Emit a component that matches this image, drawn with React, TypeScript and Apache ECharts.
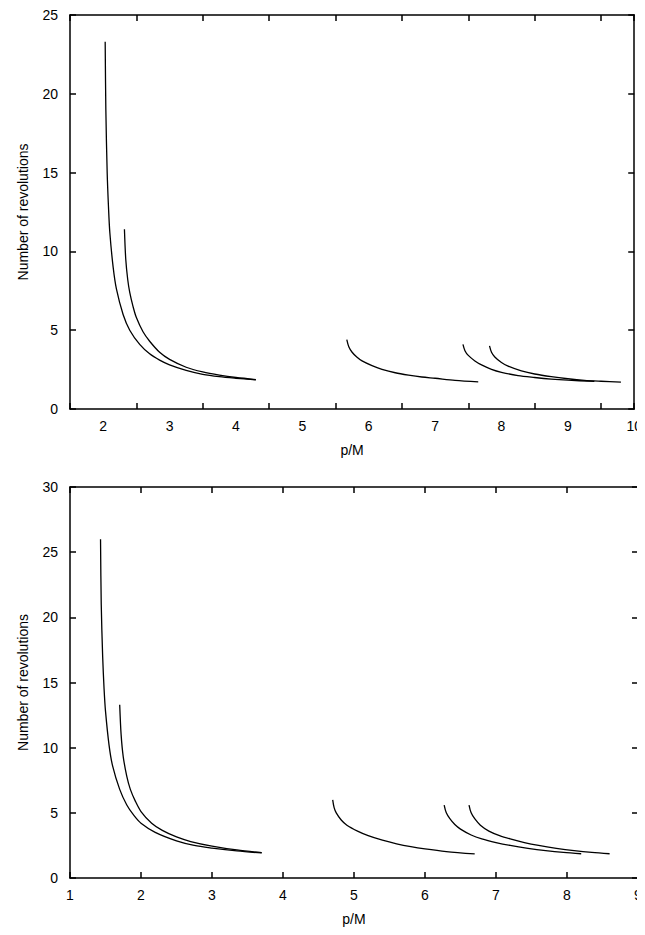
import React, { useEffect, useRef } from "react";
import * as echarts from "echarts";

const topCurves: number[][][] = [
  [[2.03, 23.3], [2.04, 19], [2.06, 15], [2.08, 12.8], [2.1, 11.2], [2.15, 9], [2.2, 7.6], [2.3, 6], [2.4, 5], [2.55, 4.1], [2.7, 3.5], [2.85, 3.1], [3, 2.8], [3.25, 2.45], [3.5, 2.2], [3.75, 2.05], [4, 1.95], [4.3, 1.85]],
  [[2.32, 11.4], [2.34, 9.5], [2.37, 8.2], [2.4, 7.4], [2.45, 6.5], [2.5, 5.8], [2.6, 4.9], [2.7, 4.3], [2.85, 3.6], [3, 3.15], [3.25, 2.65], [3.5, 2.35], [3.75, 2.15], [4, 2.0], [4.3, 1.87]],
  [[5.67, 4.4], [5.7, 3.95], [5.75, 3.6], [5.82, 3.3], [5.9, 3.05], [6.05, 2.75], [6.2, 2.52], [6.4, 2.3], [6.6, 2.15], [6.8, 2.03], [7, 1.95], [7.3, 1.82], [7.65, 1.72]],
  [[7.42, 4.1], [7.45, 3.7], [7.5, 3.4], [7.6, 3.05], [7.7, 2.8], [7.85, 2.52], [8, 2.33], [8.25, 2.12], [8.5, 2.0], [8.75, 1.9], [9, 1.83], [9.4, 1.75]],
  [[7.82, 4.0], [7.85, 3.6], [7.9, 3.3], [8.0, 2.95], [8.1, 2.72], [8.3, 2.42], [8.5, 2.22], [8.75, 2.05], [9, 1.92], [9.25, 1.82], [9.5, 1.76], [9.8, 1.7]],
];
const bottomCurves: number[][][] = [
  [[1.43, 26], [1.44, 21], [1.46, 17], [1.48, 14.5], [1.5, 12.8], [1.55, 10.2], [1.6, 8.6], [1.7, 6.8], [1.8, 5.6], [1.9, 4.8], [2, 4.2], [2.2, 3.5], [2.5, 2.85], [2.75, 2.5], [3, 2.3], [3.35, 2.08], [3.7, 1.92]],
  [[1.7, 13.3], [1.72, 11], [1.75, 9.3], [1.8, 7.8], [1.85, 6.8], [1.92, 5.9], [2, 5.1], [2.15, 4.2], [2.3, 3.65], [2.5, 3.15], [2.7, 2.8], [3, 2.45], [3.35, 2.15], [3.7, 1.95]],
  [[4.7, 6], [4.72, 5.4], [4.75, 5], [4.82, 4.45], [4.9, 4.05], [5.05, 3.6], [5.2, 3.25], [5.4, 2.9], [5.6, 2.62], [5.8, 2.4], [6, 2.23], [6.3, 2.03], [6.7, 1.85]],
  [[6.27, 5.6], [6.3, 5.0], [6.35, 4.55], [6.42, 4.1], [6.5, 3.75], [6.65, 3.3], [6.8, 3.0], [7, 2.72], [7.2, 2.5], [7.45, 2.28], [7.7, 2.1], [7.95, 1.96], [8.2, 1.86]],
  [[6.62, 5.6], [6.65, 5.0], [6.7, 4.55], [6.78, 4.05], [6.9, 3.6], [7.05, 3.25], [7.2, 3.0], [7.4, 2.72], [7.6, 2.5], [7.85, 2.28], [8.1, 2.1], [8.35, 1.96], [8.6, 1.86]],
];
const topX = { min: 1.5, max: 10 };
const topY = { min: 0, max: 25 };
const botX = { min: 1, max: 9 };
const botY = { min: 0, max: 30 };

const font = "Liberation Sans, Arial, sans-serif";

export default function App() {
  const ref = useRef<HTMLDivElement>(null);
  useEffect(() => {
    const chart = echarts.init(ref.current!, null, { renderer: "svg" });
    const line = { lineStyle: { color: "#000", width: 1.5 } };
    const lbl = { color: "#000", fontSize: 14, fontFamily: font };
    const mkX = (gi: number, r: any, pos: string, show: boolean) => ({
      type: "value", gridIndex: gi, position: pos, min: r.min, max: r.max, interval: 1,
      axisLine: { onZero: false, ...line }, axisTick: { inside: true, length: 6, ...line },
      splitLine: { show: false },
      axisLabel: { show, ...lbl, margin: 10,
        customValues: gi === 0 ? [2, 3, 4, 5, 6, 7, 8, 9, 10] : undefined },
      axisTickCustom: undefined,
      name: show ? "p/M" : "", nameLocation: "middle", nameGap: 34,
      nameTextStyle: { ...lbl },
    });
    const mkY = (gi: number, r: any, pos: string, show: boolean) => ({
      type: "value", gridIndex: gi, position: pos, min: r.min, max: r.max, interval: 5,
      axisLine: { onZero: false, ...line }, axisTick: { inside: true, length: 6, ...line },
      splitLine: { show: false },
      axisLabel: { show, ...lbl, margin: 12 },
      name: show ? "Number of revolutions" : "", nameLocation: "middle", nameGap: 40,
      nameTextStyle: { ...lbl },
    });
    const series: any[] = [];
    topCurves.forEach((c) => series.push({ type: "line", xAxisIndex: 0, yAxisIndex: 0, data: c, smooth: 0.3, showSymbol: false, lineStyle: { color: "#000", width: 1.3 } }));
    bottomCurves.forEach((c) => series.push({ type: "line", xAxisIndex: 2, yAxisIndex: 2, data: c, smooth: 0.3, showSymbol: false, lineStyle: { color: "#000", width: 1.3 } }));
    chart.setOption({
      animation: false,
      grid: [
        { left: 55, right: 7, top: 4, height: 397 },
        { left: 57, right: 7, top: 479, height: 393 },
      ],
      xAxis: [mkX(0, topX, "bottom", true), mkX(0, topX, "top", false), mkX(1, botX, "bottom", true), mkX(1, botX, "top", false)],
      yAxis: [mkY(0, topY, "left", true), mkY(0, topY, "right", false), mkY(1, botY, "left", true), mkY(1, botY, "right", false)],
      series,
    });
    return () => chart.dispose();
  }, []);
  return <div ref={ref} style={{ width: 637, height: 919 }} />;
}
